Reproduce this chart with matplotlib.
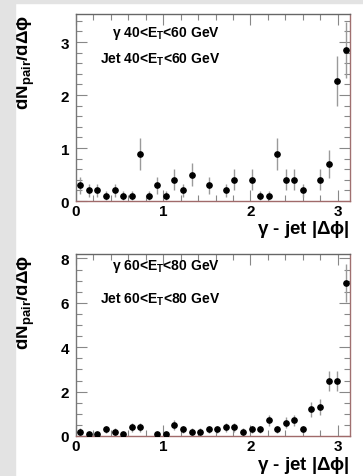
import numpy as np
import matplotlib
matplotlib.use("Agg")
import matplotlib.pyplot as plt
from matplotlib.patches import Rectangle
from matplotlib.ticker import MultipleLocator

plt.rcParams['font.family'] = ['Liberation Sans', 'DejaVu Sans']
plt.rcParams['font.weight'] = 'bold'
plt.rcParams['mathtext.fontset'] = 'custom'
plt.rcParams['mathtext.rm'] = 'Liberation Sans'
plt.rcParams['mathtext.bf'] = 'Liberation Sans:bold'
plt.rcParams['mathtext.default'] = 'bf'

# ---- data: bin index (32 bins over 0..pi), value, error ----
n_bins = 32

top_bins = [0, 1, 2, 3, 4, 5, 6, 7, 8, 9, 10, 11, 12, 13, 15, 17, 18,
            20, 21, 22, 23, 24, 25, 26, 28, 29, 30, 31]
top_vals = [0.3, 0.2, 0.2, 0.1, 0.2, 0.1, 0.1, 0.88, 0.1, 0.3, 0.1, 0.4, 0.2, 0.5,
            0.3, 0.2, 0.4, 0.4, 0.1, 0.1, 0.88, 0.4, 0.4, 0.2, 0.4, 0.7, 2.27, 2.85]
top_errs = [0.16, 0.13, 0.13, 0.08, 0.13, 0.08, 0.08, 0.3, 0.08, 0.16, 0.08, 0.2, 0.13, 0.22,
            0.16, 0.13, 0.2, 0.2, 0.08, 0.08, 0.3, 0.2, 0.2, 0.13, 0.2, 0.26, 0.47, 0.53]

bot_bins = [0, 1, 2, 3, 4, 5, 6, 7, 9, 10, 11, 12, 13, 14, 15, 16, 17, 18,
            19, 20, 21, 22, 23, 24, 25, 26, 27, 28, 29, 30, 31]
bot_vals = [0.2, 0.1, 0.1, 0.3, 0.2, 0.1, 0.4, 0.4, 0.1, 0.1, 0.5, 0.3, 0.2, 0.2,
            0.3, 0.3, 0.4, 0.4, 0.2, 0.3, 0.3, 0.7, 0.3, 0.6, 0.7, 0.3, 1.2, 1.3,
            2.5, 2.5, 6.9]
bot_errs = [0.14, 0.1, 0.1, 0.17, 0.14, 0.1, 0.2, 0.2, 0.1, 0.1, 0.22, 0.17, 0.14, 0.14,
            0.17, 0.17, 0.2, 0.2, 0.14, 0.17, 0.17, 0.26, 0.17, 0.25, 0.26, 0.17, 0.35, 0.36,
            0.45, 0.45, 0.85]

top_lines = [r'$\mathrm{\gamma}$ 40<E$_T$<60 GeV', 'Jet 40<E$_T$<60 GeV']
bot_lines = [r'$\mathrm{\gamma}$ 60<E$_T$<80 GeV', 'Jet 60<E$_T$<80 GeV']

ylabel = 'dN$_{pair}$/dΔϕ'
xlabel = r'$\mathrm{\gamma}$ - jet |Δϕ|'

W, H = 363, 477
fig = plt.figure(figsize=(W / 100, H / 100), dpi=100)
fig.patch.set_facecolor('white')

# grey border strips of the page
fig.patches.append(Rectangle((0, 0), 15 / W, 1, transform=fig.transFigure,
                             color='#e3e3e3', zorder=0))
fig.patches.append(Rectangle((0, 1 - 4 / H), 1, 4 / H, transform=fig.transFigure,
                             color='#e3e3e3', zorder=0))


def panel(rect, bins, vals, errs, lines, ymax, ymajor, yminor, txt_y, xlab_y):
    ax = fig.add_axes(rect)
    width = np.pi / n_bins
    x = (np.array(bins) + 0.5) * width
    ax.errorbar(x, vals, yerr=errs, fmt='o', color='black', ms=3.8,
                ecolor='#9a9a9a', elinewidth=1.0, capsize=0, zorder=3)
    ax.set_xlim(0, np.pi)
    ax.set_ylim(0, ymax)
    ax.xaxis.set_major_locator(MultipleLocator(1))
    ax.xaxis.set_minor_locator(MultipleLocator(0.2))
    ax.yaxis.set_major_locator(MultipleLocator(ymajor))
    ax.yaxis.set_minor_locator(MultipleLocator(yminor))
    ax.tick_params(which='both', direction='in', top=True, right=True,
                   color='#888888', labelsize=11)
    ax.tick_params(which='major', length=8, width=0.8)
    ax.tick_params(which='minor', length=4, width=0.8)
    ax.tick_params(axis='x', pad=2)
    ax.tick_params(axis='y', pad=5)
    for lab in ax.get_xticklabels() + ax.get_yticklabels():
        lab.set_fontweight('bold')
    ax.spines['left'].set_color('#777777')
    ax.spines['top'].set_color('#666666')
    ax.spines['right'].set_color('#a07070')
    ax.spines['bottom'].set_color('#a06a6a')
    for sp in ax.spines.values():
        sp.set_linewidth(1.0)
    for line, ty in zip(lines, txt_y):
        ax.text(0.525, ty, line, transform=ax.transAxes, ha='right',
                va='baseline', fontsize=10, fontweight='bold')
    ax.set_ylabel(ylabel, fontsize=13.5, fontweight='bold', ha='right', va='center')
    ax.yaxis.set_label_coords(-0.186, 1.0)
    ax.set_xlabel(xlabel, fontsize=13.5, fontweight='bold', ha='right', va='center')
    ax.xaxis.set_label_coords(1.0, xlab_y)
    return ax


panel([76 / W, 1 - 202 / H, 274 / W, 187 / H], top_bins, top_vals, top_errs,
      top_lines, 3.53, 1, 0.2, [0.88, 0.74], -0.147)
panel([76 / W, 1 - 437 / H, 274 / W, 182 / H], bot_bins, bot_vals, bot_errs,
      bot_lines, 8.2, 2, 0.5, [0.915, 0.735], -0.158)

fig.savefig('out.png', dpi=100, facecolor=fig.get_facecolor())
